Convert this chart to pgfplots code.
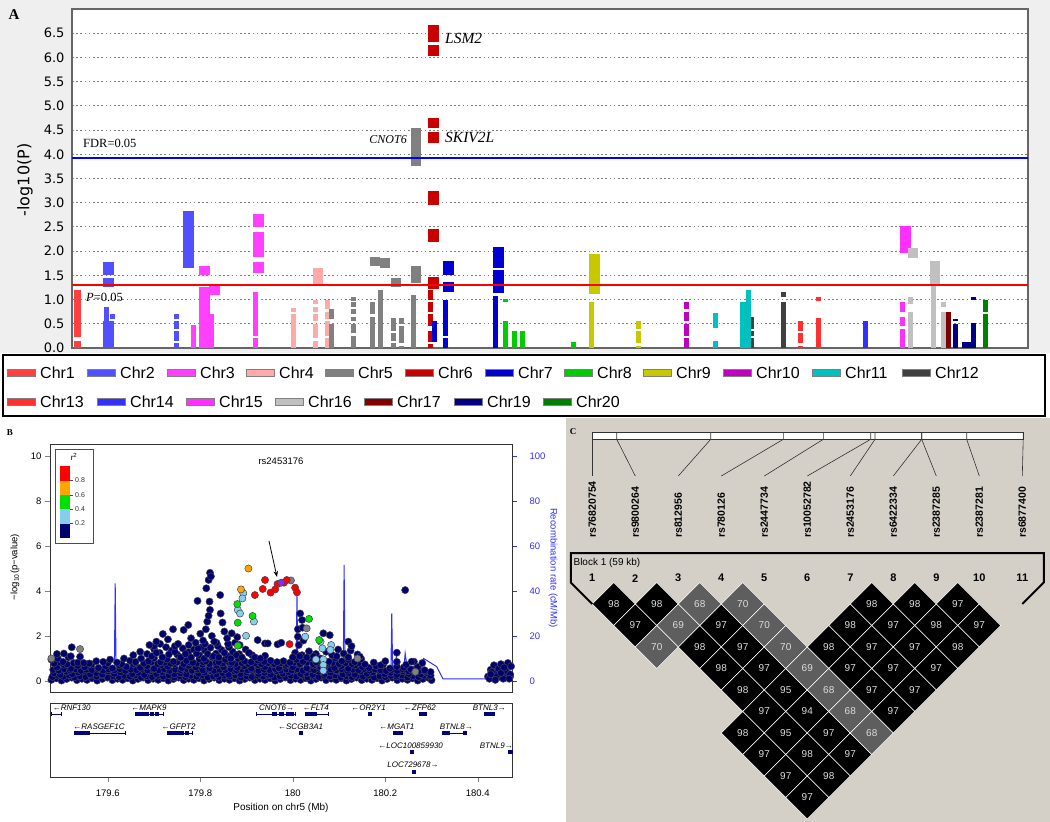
\documentclass[border=0pt]{standalone}
\usepackage{fontspec}
\setmainfont{Liberation Sans}
\newfontfamily\timesf{Liberation Serif}
\newfontfamily\dejavu{DejaVu Sans}
\usepackage{pgfplots}
\pgfplotsset{compat=1.18}
\usetikzlibrary{arrows.meta}
\newcommand{\fs}[1]{\fontsize{#1}{#1}\selectfont}
\pgfplotsset{/pgf/number format/assume math mode=true}
\definecolor{bgA}{HTML}{EFEFEF}
\definecolor{bgC}{HTML}{D4D0C8}
\definecolor{chrA}{HTML}{FF4040}
\definecolor{chrB}{HTML}{5050FF}
\definecolor{chrC}{HTML}{FF40FF}
\definecolor{chrD}{HTML}{FFAAAA}
\definecolor{chrE}{HTML}{808080}
\definecolor{chrF}{HTML}{C80000}
\definecolor{chrG}{HTML}{0000D0}
\definecolor{chrH}{HTML}{00CC00}
\definecolor{chrI}{HTML}{C8C800}
\definecolor{chrJ}{HTML}{C000C0}
\definecolor{chrK}{HTML}{00C0C0}
\definecolor{chrL}{HTML}{404040}
\definecolor{chrM}{HTML}{FF3030}
\definecolor{chrN}{HTML}{3030FF}
\definecolor{chrO}{HTML}{FF30FF}
\definecolor{chrP}{HTML}{C0C0C0}
\definecolor{chrQ}{HTML}{800000}
\definecolor{chrR}{HTML}{000080}
\definecolor{chrS}{HTML}{008000}
\definecolor{ptNavy}{HTML}{00006E}
\definecolor{ptEdge}{HTML}{444450}
\definecolor{ptLB}{HTML}{87CEEB}
\definecolor{ptGreen}{HTML}{00E000}
\definecolor{ptOrange}{HTML}{FFA500}
\definecolor{ptRed}{HTML}{FF0000}
\definecolor{ptPurple}{HTML}{8A2BE2}
\definecolor{recomb}{HTML}{3030FF}
\definecolor{ldgray}{HTML}{5E5E5E}
\definecolor{ldtext}{HTML}{DCDCDC}
\pgfplotsset{pt/.style={only marks, mark=*, mark size=3.6pt, mark options={fill=#1, draw=ptEdge, line width=0.5pt}}}
\begin{document}
\begin{tikzpicture}
\useasboundingbox (0pt,0pt) rectangle (1050pt,-822pt);
\fill[white] (0pt,0pt) rectangle (1050pt,-822pt);
\fill[bgA] (0pt,0pt) rectangle (1050pt,-353pt);
\fill[bgC] (566pt,-418pt) rectangle (1050pt,-822pt);

% ================= Panel A =================
\begin{axis}[at={(72pt,-348pt)}, anchor=south west, scale only axis,
  width=956pt, height=339pt, xmin=72, xmax=1028, ymin=0, ymax=7,
  axis background/.style={fill=white},
  xtick=\empty, ytick={0,0.5,1,1.5,2,2.5,3,3.5,4,4.5,5,5.5,6,6.5},
  yticklabel style={font=\dejavu\fs{13}, xshift=-4pt, /pgf/number format/.cd, fixed, fixed zerofill, precision=1},
  ymajorgrids, grid style={dash pattern=on 1.6pt off 2.6pt, gray, line width=1pt},
  major tick length=0pt,
  axis line style={draw=black!60, line width=1.4pt},
  unbounded coords=jump]
\addplot[chrA, line width=7pt] coordinates {(78,0)(78,0.15)(78,nan)(78,0.22)(78,1.2)};
\addplot[chrB, line width=11pt] coordinates {(108,1.5)(108,1.78)(108,nan)(108,1.25)(108,1.45)(108,nan)(108,0)(108,0.55)(108,nan)(188,1.65)(188,2.82)};
\addplot[chrB, line width=5pt] coordinates {(106,0.55)(106,0.85)(106,nan)(112,0.6)(112,0.7)(112,nan)(176,0)(176,0.1)(176,nan)(176,0.15)(176,0.35)(176,nan)(176,0.4)(176,0.55)(176,nan)(176,0.6)(176,0.7)};
\addplot[chrC, line width=11pt] coordinates {(204.5,0)(204.5,1.25)(204.5,nan)(204.5,1.5)(204.5,1.7)(204.5,nan)(214,1.1)(214,1.33)(214,nan)(258,1.55)(258,1.77)(258,nan)(258,1.87)(258,2.4)(258,nan)(258,2.5)(258,2.77)};
\addplot[chrC, line width=5pt] coordinates {(193,0)(193,0.48)(193,nan)(211,0)(211,0.7)(211,nan)(255,0)(255,0.2)(255,nan)(255,0.25)(255,1.15)};
\addplot[chrD, line width=10pt] coordinates {(318,1.3)(318,1.65)};
\addplot[chrD, line width=5pt] coordinates {(293,0)(293,0.7)(293,nan)(293,0.75)(293,0.82)(293,nan)(315,0)(315,0.15)(315,nan)(315,0.2)(315,0.5)(315,nan)(315,0.55)(315,0.7)(315,nan)(315,0.75)(315,0.85)(315,nan)(315,0.9)(315,1.0)(315,nan)(327,0)(327,0.2)(327,nan)(327,0.25)(327,0.55)(327,nan)(327,0.6)(327,0.75)(327,nan)(327,0.8)(327,1.0)};
\addplot[chrE, line width=10pt] coordinates {(375,1.7)(375,1.88)(375,nan)(385,1.65)(385,1.85)(385,nan)(396,1.25)(396,1.45)(396,nan)(416,1.35)(416,1.7)(416,nan)(416,3.75)(416,4.55)};
\addplot[chrE, line width=5pt] coordinates {(331,0)(331,0.5)(331,nan)(331,0.6)(331,0.8)(331,nan)(353,0)(353,0.25)(353,nan)(353,0.3)(353,0.5)(353,nan)(353,0.55)(353,0.65)(353,nan)(353,0.7)(353,0.8)(353,nan)(353,0.85)(353,0.95)(353,nan)(353,0.98)(353,1.05)(353,nan)(372,0)(372,0.65)(372,nan)(372,0.7)(372,0.95)(372,nan)(380,0)(380,1.2)(380,nan)(393,0)(393,0.1)(393,nan)(393,0.15)(393,0.3)(393,nan)(393,0.35)(393,0.62)(393,nan)(401,0)(401,0.05)(401,nan)(401,0.1)(401,0.45)(401,nan)(401,0.5)(401,0.62)(401,nan)(413,0)(413,1.1)};
\addplot[chrF, line width=11pt] coordinates {(433,6.03)(433,6.25)(433,nan)(433,6.32)(433,6.67)(433,nan)(433,4.23)(433,4.45)(433,nan)(433,4.55)(433,4.75)(433,nan)(433,2.96)(433,3.24)(433,nan)(433,2.18)(433,2.46)(433,nan)(433,1.22)(433,1.46)};
\addplot[chrF, line width=5pt] coordinates {(430,0)(430,0.08)(430,nan)(430,0.12)(430,0.35)(430,nan)(430,0.45)(430,0.7)(430,nan)(430,0.75)(430,0.95)(430,nan)(430,1.0)(430,1.2)};
\addplot[chrG, line width=11pt] coordinates {(448,1.5)(448,1.8)(448,nan)(448,1.15)(448,1.37)(448,nan)(498,1.13)(498,1.62)(498,nan)(498,1.66)(498,2.08)};
\addplot[chrG, line width=5pt] coordinates {(434,0.12)(434,0.55)(434,nan)(445,0)(445,0.2)(445,nan)(445,0.25)(445,1.0)(445,nan)(495,0)(495,1.08)};
\addplot[chrH, line width=5pt] coordinates {(505,0.95)(505,1.02)(505,nan)(505,0)(505,0.55)(505,nan)(514,0)(514,0.35)(514,nan)(522,0)(522,0.35)(522,nan)(573,0)(573,0.13)};
\addplot[chrI, line width=11pt] coordinates {(594.5,1.12)(594.5,1.95)};
\addplot[chrI, line width=5pt] coordinates {(591,0)(591,0.95)(591,nan)(638,0)(638,0.05)(638,nan)(638,0.1)(638,0.35)(638,nan)(638,0.4)(638,0.55)};
\addplot[chrJ, line width=5pt] coordinates {(686,0)(686,0.2)(686,nan)(686,0.25)(686,0.5)(686,nan)(686,0.55)(686,0.75)(686,nan)(686,0.8)(686,0.95)};
\addplot[chrK, line width=8pt] coordinates {(744,0)(744,0.95)};
\addplot[chrK, line width=5pt] coordinates {(715,0)(715,0.15)(715,nan)(715,0.42)(715,0.72)(715,nan)(748,0)(748,1.2)};
\addplot[chrL, line width=3pt] coordinates {(752,0)(752,0.2)(752,nan)(752,0.25)(752,0.35)(752,nan)(752,0.4)(752,0.65)};
\addplot[chrL, line width=5pt] coordinates {(783,0)(783,0.95)(783,nan)(783,1.05)(783,1.15)};
\addplot[chrM, line width=5pt] coordinates {(800,0)(800,0.05)(800,nan)(800,0.1)(800,0.3)(800,nan)(800,0.35)(800,0.55)(800,nan)(818,0)(818,0.62)(818,nan)(818,0.98)(818,1.05)};
\addplot[chrN, line width=5pt] coordinates {(865,0)(865,0.55)};
\addplot[chrO, line width=11pt] coordinates {(905,1.96)(905,2.51)};
\addplot[chrO, line width=5pt] coordinates {(902,0)(902,0.4)(902,nan)(902,0.45)(902,0.65)(902,nan)(902,0.75)(902,0.95)};
\addplot[chrP, line width=10pt] coordinates {(913,1.86)(913,2.06)(913,nan)(935,1.3)(935,1.8)};
\addplot[chrP, line width=5pt] coordinates {(910,0)(910,0.75)(910,nan)(910,0.9)(910,1.05)(910,nan)(933,0)(933,1.3)(933,nan)(943,0)(943,0.75)(943,nan)(943,0.85)(943,0.95)};
\addplot[chrQ, line width=5pt] coordinates {(948,0)(948,0.75)};
\addplot[chrR, line width=10pt] coordinates {(967,0)(967,0.13)};
\addplot[chrR, line width=5pt] coordinates {(955,0)(955,0.5)(955,nan)(955,0.55)(955,0.6)(955,nan)(973,0)(973,0.52)(973,nan)(973,1.0)(973,1.05)};
\addplot[chrS, line width=5pt] coordinates {(985,0)(985,0.7)(985,nan)(985,0.75)(985,1.0)};
\addplot[blue, line width=1.5pt] coordinates {(72,3.92)(1028,3.92)};
\addplot[red, line width=1.5pt] coordinates {(72,1.3)(1028,1.3)};
\end{axis}
\node[font=\timesf\bfseries\fs{15}] at (14pt,-15pt) {A};
\node[rotate=90, font=\dejavu\fs{16}] at (25pt,-180pt) {-log10(P)};
\node[anchor=west, inner sep=0pt, font=\timesf\fs{12.5}] at (83pt,-143pt) {FDR=0.05};
\node[anchor=west, inner sep=0pt, font=\timesf\fs{12.5}] at (86pt,-297pt) {\textit{P}=0.05};
\node[anchor=west, inner sep=0pt, font=\timesf\itshape\fs{15.5}] at (445pt,-38pt) {LSM2};
\node[anchor=west, inner sep=0pt, font=\timesf\itshape\fs{15.5}] at (445pt,-137pt) {SKIV2L};
\node[anchor=east, inner sep=0pt, font=\timesf\itshape\fs{12}] at (407pt,-140pt) {CNOT6};

% legend
\draw[black, line width=1.5pt, fill=white] (3pt,-355pt) rectangle (1045pt,-416pt);
\foreach \xx/\lab/\col in {7/Chr1/chrA, 87/Chr2/chrB, 167/Chr3/chrC, 246/Chr4/chrD, 325/Chr5/chrE, 405/Chr6/chrF, 485/Chr7/chrG, 564/Chr8/chrH, 643/Chr9/chrI, 723/Chr10/chrJ, 812/Chr11/chrK, 902/Chr12/chrL}{
  \fill[\col, draw=gray, line width=0.5pt] (\xx pt,-369pt) rectangle ++(28pt,-7pt);
  \node[anchor=west, inner sep=0pt, font=\fs{16}] at (\xx pt+33pt,-373pt) {\lab};
}
\foreach \xx/\lab/\col in {7/Chr13/chrM, 97/Chr14/chrN, 186/Chr15/chrO, 275/Chr16/chrP, 364/Chr17/chrQ, 454/Chr19/chrR, 543/Chr20/chrS}{
  \fill[\col, draw=gray, line width=0.5pt] (\xx pt,-398pt) rectangle ++(28pt,-7pt);
  \node[anchor=west, inner sep=0pt, font=\fs{16}] at (\xx pt+33pt,-402pt) {\lab};
}

% ================= Panel B =================
\begin{axis}[at={(50pt,-692pt)}, anchor=south west, scale only axis,
  width=462pt, height=248pt, xmin=179.475, xmax=180.474, ymin=-4.89, ymax=105.33,
  axis x line=none, axis y line*=right, ytick={0,20,40,60,80,100},
  tick align=outside, major tick length=5pt, ytick style={recomb, line width=0.8pt},
  yticklabel style={font=\fs{9.5}, text=recomb, anchor=west, xshift=9pt},
  y axis line style={draw=none}]
\addplot[recomb, line width=1pt] coordinates {(179.475,1.5)(179.598,1.5)(179.600,10.8)(179.602,1.5)(179.614,1.5)(179.616,43.4)(179.618,2)(180.007,2)(180.009,39)(180.011,2)(180.109,2)(180.111,51.6)(180.113,2)(180.212,2)(180.214,30)(180.216,4)(180.222,4)(180.224,12)(180.226,4)(180.240,5)(180.243,12.3)(180.247,6.4)(180.281,6.4)(180.283,10)(180.311,6.4)(180.325,0.9)(180.474,0.9)};
\end{axis}
\begin{axis}[at={(50pt,-692pt)}, anchor=south west, scale only axis,
  width=462pt, height=248pt, xmin=179.475, xmax=180.474, ymin=-0.489, ymax=10.533,
  xtick=\empty, ytick={0,2,4,6,8,10}, ytick pos=left,
  tick align=outside, major tick length=5pt,
  yticklabel style={font=\fs{9.5}},
  axis line style={black!80, line width=0.9pt}]
\addplot[pt=ptNavy] coordinates {
(179.478,0.05)(179.489,0.12)(179.500,0.02)(179.511,0.09)(179.522,0.15)(179.533,0.04)(179.544,0.10)(179.555,0.05)(179.566,0.12)(179.577,0.02)(179.588,0.09)(179.599,0.15)(179.610,0.04)(179.621,0.10)(179.632,0.05)(179.643,0.12)(179.654,0.02)(179.665,0.09)(179.676,0.15)(179.687,0.04)(179.698,0.10)(179.709,0.05)(179.720,0.12)(179.731,0.02)(179.742,0.09)(179.753,0.15)(179.764,0.04)(179.775,0.10)(179.786,0.05)(179.797,0.12)(179.808,0.02)(179.819,0.09)(179.830,0.15)(179.841,0.04)(179.852,0.10)(179.863,0.05)(179.874,0.12)(179.885,0.02)(179.896,0.09)(179.907,0.15)(179.918,0.04)(179.929,0.10)(179.940,0.05)(179.951,0.12)(179.962,0.02)(179.973,0.09)(179.984,0.15)(179.995,0.04)(180.006,0.10)(180.017,0.05)(180.028,0.12)(180.039,0.02)(180.050,0.09)(180.061,0.15)(180.072,0.04)(180.083,0.10)(180.094,0.05)(180.105,0.12)(180.116,0.02)(180.127,0.09)(180.138,0.15)(180.149,0.04)(180.160,0.10)(180.171,0.05)(180.182,0.12)(180.193,0.02)(180.204,0.09)(180.215,0.15)(180.226,0.04)(180.237,0.10)(180.248,0.05)(180.259,0.12)(180.270,0.02)(180.281,0.09)(180.292,0.15)(180.300,0.04)
(179.480,0.18)(179.492,0.24)(179.504,0.20)(179.516,0.26)(179.528,0.16)(179.540,0.22)(179.552,0.18)(179.564,0.24)(179.576,0.20)(179.588,0.26)(179.600,0.16)(179.612,0.22)(179.624,0.18)(179.636,0.24)(179.648,0.20)(179.660,0.26)(179.672,0.16)(179.684,0.22)(179.696,0.18)(179.708,0.24)(179.720,0.20)(179.732,0.26)(179.744,0.16)(179.756,0.22)(179.768,0.18)(179.780,0.24)(179.792,0.20)(179.804,0.26)(179.816,0.16)(179.828,0.22)(179.840,0.18)(179.852,0.24)(179.864,0.20)(179.876,0.26)(179.888,0.16)(179.900,0.22)(179.912,0.18)(179.924,0.24)(179.936,0.20)(179.948,0.26)(179.960,0.16)(179.972,0.22)(179.984,0.18)(179.996,0.24)(180.008,0.20)(180.020,0.26)(180.032,0.16)(180.044,0.22)(180.056,0.18)(180.068,0.24)(180.080,0.20)(180.092,0.26)(180.104,0.16)(180.116,0.22)(180.128,0.18)(180.140,0.24)(180.152,0.20)(180.164,0.26)(180.176,0.16)(180.188,0.22)(180.200,0.18)(180.212,0.24)(180.224,0.20)(180.236,0.26)(180.248,0.16)(180.260,0.22)(180.272,0.18)(180.284,0.24)(180.296,0.20)(180.422,0.20)(180.434,0.25)(180.446,0.18)(180.458,0.24)(180.470,0.20)
(179.484,0.35)(179.497,0.28)(179.510,0.42)(179.523,0.31)(179.536,0.38)(179.549,0.45)(179.562,0.30)(179.575,0.36)(179.588,0.29)(179.601,0.43)(179.614,0.33)(179.627,0.39)(179.640,0.46)(179.653,0.31)(179.666,0.37)(179.679,0.28)(179.692,0.44)(179.705,0.32)(179.718,0.40)(179.731,0.47)(179.744,0.30)(179.757,0.35)(179.770,0.29)(179.783,0.42)(179.796,0.33)(179.809,0.38)(179.822,0.45)(179.835,0.30)(179.848,0.36)(179.861,0.28)(179.874,0.43)(179.887,0.31)(179.900,0.39)(179.913,0.46)(179.926,0.32)(179.939,0.37)(179.952,0.29)(179.965,0.44)(179.978,0.33)(179.991,0.40)(180.004,0.47)(180.017,0.31)(180.030,0.36)(180.043,0.28)(180.056,0.42)(180.069,0.32)(180.082,0.38)(180.095,0.45)(180.108,0.30)(180.121,0.35)(180.134,0.29)(180.147,0.43)(180.160,0.33)(180.173,0.39)(180.186,0.46)(180.199,0.31)(180.212,0.37)(180.225,0.28)(180.238,0.44)(180.251,0.32)(180.264,0.40)(180.277,0.30)(180.290,0.36)(180.298,0.25)
(179.482,0.50)(179.494,0.47)(179.506,0.53)(179.518,0.48)(179.530,0.52)(179.542,0.46)(179.554,0.51)(179.566,0.49)(179.578,0.54)(179.590,0.47)(179.602,0.52)(179.614,0.48)(179.626,0.53)(179.638,0.46)(179.650,0.51)(179.662,0.49)(179.674,0.54)(179.686,0.47)(179.698,0.52)(179.710,0.48)(179.722,0.53)(179.734,0.46)(179.746,0.51)(179.758,0.49)(179.770,0.54)(179.782,0.47)(179.794,0.52)(179.806,0.48)(179.818,0.53)(179.830,0.46)(179.842,0.51)(179.854,0.49)(179.866,0.54)(179.878,0.47)(179.890,0.52)(179.902,0.48)(179.914,0.53)(179.926,0.46)(179.938,0.51)(179.950,0.49)(179.962,0.54)(179.974,0.47)(179.986,0.52)(179.998,0.48)(180.010,0.53)(180.022,0.46)(180.034,0.51)(180.046,0.49)(180.058,0.54)(180.070,0.47)(180.082,0.52)(180.094,0.48)(180.106,0.53)(180.118,0.46)(180.130,0.51)(180.142,0.49)(180.154,0.54)(180.166,0.47)(180.178,0.52)(180.190,0.48)(180.202,0.45)(180.214,0.50)(180.226,0.46)(180.238,0.52)(180.250,0.44)(180.262,0.50)(180.274,0.46)(180.286,0.42)(180.298,0.40)(180.428,0.50)(180.442,0.45)(180.462,0.55)
(179.490,0.60)(179.505,0.72)(179.520,0.55)(179.535,0.68)(179.550,0.62)(179.565,0.74)(179.580,0.58)(179.595,0.66)(179.610,0.56)(179.625,0.70)(179.640,0.63)(179.655,0.75)(179.670,0.59)(179.685,0.67)(179.700,0.55)(179.715,0.71)(179.730,0.64)(179.745,0.76)(179.760,0.58)(179.775,0.68)(179.790,0.61)(179.805,0.73)(179.820,0.57)(179.835,0.69)(179.850,0.62)(179.865,0.74)(179.880,0.59)(179.895,0.66)(179.910,0.56)(179.925,0.71)(179.940,0.63)(179.955,0.75)(179.970,0.58)(179.985,0.68)(180.000,0.61)(180.015,0.73)(180.030,0.57)(180.045,0.69)(180.060,0.62)(180.075,0.74)(180.090,0.59)(180.105,0.67)(180.120,0.55)(180.135,0.70)(180.150,0.63)(180.165,0.58)(180.180,0.66)(180.195,0.72)(180.210,0.56)(180.225,0.64)(180.240,0.60)(180.255,0.52)(180.270,0.62)(180.285,0.48)
(179.484,0.78)(179.498,0.82)(179.512,0.74)(179.526,0.80)(179.560,0.78)(179.600,0.80)(179.630,0.76)(179.660,0.80)(179.678,0.78)(179.694,0.84)(179.708,0.76)(179.722,0.82)(179.736,0.78)(179.750,0.84)(179.764,0.76)(179.778,0.82)(179.792,0.78)(179.806,0.84)(179.820,0.76)(179.834,0.82)(179.848,0.78)(179.862,0.84)(179.876,0.76)(179.890,0.80)(179.904,0.76)(179.918,0.80)(179.932,0.76)(179.946,0.80)(179.960,0.76)(179.974,0.80)(179.988,0.76)(180.002,0.82)(180.016,0.76)(180.030,0.82)(180.044,0.76)(180.058,0.80)(180.072,0.78)(180.086,0.82)(180.100,0.76)(180.114,0.80)(180.128,0.76)(180.142,0.80)(180.156,0.74)(180.190,0.70)(180.245,0.72)
(179.478,0.95)(179.492,1.00)(179.503,0.85)(179.515,1.05)(179.535,0.82)(179.548,0.80)(179.575,0.88)(179.590,0.85)(179.605,0.95)(179.620,0.82)(179.635,1.00)(179.648,0.90)(179.660,0.85)(179.672,1.00)(179.688,0.88)(179.700,1.02)(179.714,0.84)(179.728,0.96)(179.742,0.86)(179.756,1.04)(179.770,0.90)(179.784,0.82)(179.798,0.98)(179.812,0.88)(179.826,1.05)(179.840,0.85)(179.854,0.95)(179.868,0.82)(179.882,1.00)(179.896,0.88)(179.910,0.84)(179.924,0.92)(179.938,0.86)(179.952,0.90)(179.966,0.84)(179.980,0.88)(179.994,0.82)(180.008,0.95)(180.022,0.86)(180.036,1.00)(180.050,0.84)(180.064,0.92)(180.078,0.86)(180.092,1.02)(180.106,0.88)(180.120,0.95)(180.134,0.85)(180.148,0.98)(180.175,0.82)(180.200,0.88)(180.225,0.85)(180.262,0.86)(180.280,0.80)
(179.490,1.20)(179.505,1.22)(179.520,1.10)(179.540,1.08)(179.655,1.15)(179.670,1.30)(179.685,1.20)(179.700,1.42)(179.712,1.25)(179.726,1.50)(179.738,1.35)(179.750,1.18)(179.762,1.45)(179.774,1.28)(179.786,1.40)(179.798,1.15)(179.810,1.35)(179.822,1.48)(179.834,1.22)(179.846,1.38)(179.858,1.12)(179.870,1.30)(179.884,1.20)(179.898,1.40)(179.912,1.15)(179.940,1.12)(180.005,1.25)(180.020,1.15)(180.035,1.32)(180.050,1.20)(180.072,1.30)(180.085,1.15)(180.098,1.40)(180.110,1.22)(180.125,1.35)(180.140,1.18)(180.145,1.08)
(179.695,1.10)(179.705,1.25)(179.718,1.05)(179.732,1.18)(179.745,1.30)(179.758,1.05)(179.768,1.20)(179.780,1.05)(179.792,1.22)(179.802,1.50)(179.808,1.00)(179.816,1.20)(179.828,1.10)(179.838,1.55)(179.840,1.05)(179.852,1.25)(179.862,1.50)(179.866,1.00)(179.878,1.15)(179.890,1.05)(179.905,1.25)(179.918,1.05)(179.930,1.00)(179.700,1.55)(179.713,1.65)(179.745,1.55)(179.775,1.60)(179.795,1.45)(179.810,1.65)(179.835,1.70)(179.860,1.65)(179.885,1.60)(180.000,1.05)(180.015,1.10)(180.030,1.05)(180.045,1.10)(180.060,1.00)(180.095,1.10)(180.120,1.05)
(179.522,1.50)(179.690,1.60)(179.705,1.75)(179.719,2.09)(179.730,1.85)(179.741,2.30)(179.752,1.65)(179.764,2.27)(179.774,2.49)(179.780,1.90)(179.790,1.70)(179.794,3.56)(179.800,2.10)(179.806,1.80)(179.813,4.12)(179.818,4.49)(179.821,4.81)(179.823,4.65)(179.820,3.53)(179.821,3.16)(179.815,2.64)(179.818,2.90)(179.812,2.30)(179.825,2.00)(179.830,1.75)(179.843,3.82)(179.844,3.00)(179.848,2.60)(179.852,2.20)(179.858,1.90)(179.868,2.12)(179.875,1.70)(179.880,1.95)(179.924,1.82)(179.940,1.67)(179.946,1.67)(179.967,1.63)(179.975,1.70)(180.011,2.30)(180.016,3.00)(180.020,2.71)(180.021,2.37)(180.011,1.97)(180.013,1.60)(180.023,1.80)(180.066,2.12)(180.080,2.04)(180.120,1.75)(180.127,1.55)(180.243,4.04)(180.225,1.26)(180.257,0.86)
(180.425,0.10)(180.430,0.40)(180.435,0.70)(180.440,0.20)(180.445,0.55)(180.450,0.75)(180.455,0.10)(180.460,0.45)(180.465,0.80)(180.470,0.30)(180.472,0.65)(180.428,0.30)(180.438,0.05)(180.450,0.35)(180.468,0.10)(180.457,0.60)
};
\addplot[pt=gray] coordinates {(179.540,1.42)(179.996,4.47)(180.030,2.34)(180.265,0.41)(180.140,1.00)(179.478,1.00)};
\addplot[pt=ptLB] coordinates {(179.893,3.90)(179.891,3.67)(179.881,3.16)(179.886,3.00)(179.916,2.64)(179.899,2.01)(180.027,1.97)(180.064,1.45)(180.050,0.96)(180.066,0.96)(180.066,0.71)(180.066,0.46)(180.083,1.60)(180.081,1.38)(180.060,1.75)};
\addplot[pt=ptGreen] coordinates {(179.880,3.42)(179.881,2.59)(179.913,2.89)(179.881,1.57)(180.035,2.76)(180.057,1.82)};
\addplot[pt=ptOrange] coordinates {(179.904,5.00)(179.888,4.07)};
\addplot[pt=ptRed] coordinates {(179.940,4.49)(179.935,4.09)(179.918,3.82)(179.952,3.93)(179.962,4.07)(179.967,4.31)(179.981,4.37)(179.987,4.49)(180.005,4.15)(180.009,3.94)(179.993,1.64)};
\addplot[pt=ptPurple] coordinates {(179.975,4.37)};
\end{axis}
\draw[-{Stealth[length=6pt]}, line width=0.8pt] (269pt,-541pt) -- (277pt,-577pt);
\node[font=\timesf\bfseries\fs{9}] at (10pt,-433pt) {B};
\node[font=\fs{9.5}] at (281pt,-461pt) {rs2453176};
\node[rotate=90, font=\fs{9.5}] at (15pt,-567pt) {−log\textsubscript{10}(p−value)};
\node[rotate=-90, font=\fs{9.5}, text=recomb] at (553pt,-568pt) {Recombination rate (cM/Mb)};
% r2 legend
\draw[black!70, fill=white, line width=0.6pt] (55pt,-449pt) rectangle (93pt,-543pt);
\fill[ptRed] (60pt,-466pt) rectangle (70pt,-480.5pt);
\fill[ptOrange] (60pt,-480.5pt) rectangle (70pt,-495pt);
\fill[ptGreen] (60pt,-495pt) rectangle (70pt,-509pt);
\fill[ptLB] (60pt,-509pt) rectangle (70pt,-523.5pt);
\fill[ptNavy] (60pt,-523.5pt) rectangle (70pt,-538pt);
\foreach \yy/\lab in {480.5/0.8, 495/0.6, 509/0.4, 523.5/0.2}{
  \draw[black!70, line width=0.4pt] (70pt,-\yy pt) -- (73pt,-\yy pt);
  \node[anchor=west, inner sep=0pt, font=\fs{7}, text=black!80] at (75pt,-\yy pt) {\lab};
}
\node[font=\fs{8}] at (74pt,-457pt) {r\textsuperscript{2}};

% gene track
\begin{axis}[at={(50pt,-777pt)}, anchor=south west, scale only axis,
  width=462pt, height=74pt, xmin=179.475, xmax=180.474, ymin=0, ymax=74,
  ytick=\empty, xtick={179.6,179.8,180,180.2,180.4},
  xticklabels={179.6,179.8,180,180.2,180.4},
  tick align=outside, major tick length=5pt, xtick pos=bottom,
  xticklabel style={font=\fs{9.5}, yshift=-4pt},
  axis line style={black!80, line width=0.9pt}, clip=false, unbounded coords=jump]
\addplot[chrR, line width=0.7pt, mark=|, mark size=2pt] coordinates {
(179.477,63)(179.499,63)(179.5,nan)(179.659,63)(179.720,63)(179.8,nan)(179.921,63)(180.005,63)(180.01,nan)(180.027,63)(180.077,63)(180.1,nan)(180.274,63)(180.288,63)(180.3,nan)(180.416,63)(180.434,63)(180.44,nan)
(179.527,44)(179.637,44)(179.7,nan)(179.728,44)(179.782,44)(179.9,nan)(180.218,44)(180.236,44)(180.3,nan)(180.324,44)(180.376,44)(180.4,nan)(180.466,25)(180.474,25)};
\addplot[chrR, only marks, mark=square*, mark size=1.6pt] coordinates {
(179.662,63)(179.667,63)(179.672,63)(179.683,63)(179.695,63)(179.705,63)(179.96,63)(179.975,63)(179.99,63)(179.998,63)(180.032,63)(180.037,63)(180.042,63)(180.048,63)(180.166,63)(180.277,63)(180.282,63)(180.418,63)(180.425,63)(180.432,63)
(179.530,44)(179.538,44)(179.547,44)(179.557,44)(179.732,44)(179.738,44)(179.745,44)(179.752,44)(179.760,44)(179.770,44)(180.017,44)(180.222,44)(180.230,44)(180.327,44)(180.335,44)(180.372,44)
(180.257,25)(180.470,25)(180.261,5)};
\end{axis}
\begin{scope}[font=\itshape\fs{8}]
\node at (71.7pt,-708pt) {←RNF130};
\node at (149.0pt,-708pt) {←MAPK9};
\node at (276.6pt,-708pt) {CNOT6→};
\node at (315.9pt,-708pt) {←FLT4};
\node at (368.6pt,-708pt) {←OR2Y1};
\node at (419.9pt,-708pt) {←ZFP62};
\node at (489.3pt,-708pt) {BTNL3→};
\node at (99.0pt,-727pt) {←RASGEF1C};
\node at (178.6pt,-727pt) {←GFPT2};
\node at (300.6pt,-727pt) {←SCGB3A1};
\node at (396.9pt,-727pt) {←MGAT1};
\node at (456.3pt,-727pt) {BTNL8→};
\node at (410.7pt,-746pt) {←LOC100859930};
\node at (496.3pt,-746pt) {BTNL9→};
\node at (413.0pt,-765pt) {LOC729678→};
\end{scope}
\node[font=\fs{10}] at (281pt,-808pt) {Position on chr5 (Mb)};

% ================= Panel C =================
\node[font=\timesf\bfseries\fs{9}] at (573pt,-432pt) {C};
\begin{axis}[at={(592.3pt,-582.5pt)}, anchor=north west, scale only axis,
  width=430pt, height=215pt, xmin=1, xmax=11, ymin=0, ymax=10, y dir=reverse,
  axis lines=none, clip=false, xtick=\empty, ytick=\empty,
  only marks, mark=square*, mark size=15.2pt]
\addplot[mark options={rotate=45, fill=black, draw=white, line width=0.6pt}] coordinates {(5.5,1)(6.5,1)(10.5,1)(6,2)(3,4)(3.5,5)(4,6)};
\addplot[mark options={rotate=45, fill=black, draw=white, line width=0.6pt},
  point meta=explicit symbolic, nodes near coords,
  every node near coord/.append style={anchor=center, font=\fs{10}, text=ldtext}] coordinates {
(1.5,1)[98](2.5,1)[98](7.5,1)[98](8.5,1)[98](9.5,1)[97]
(2,2)[97](4,2)[97](7,2)[98](8,2)[97](9,2)[98](10,2)[97]
(3.5,3)[98](4.5,3)[97](6.5,3)[98](7.5,3)[97](8.5,3)[97](9.5,3)[98]
(4,4)[98](5,4)[97](7,4)[97](8,4)[97](9,4)[97]
(4.5,5)[98](5.5,5)[95](7.5,5)[97](8.5,5)[97]
(5,6)[97](6,6)[94](8,6)[97]
(4.5,7)[98](5.5,7)[95](6.5,7)[97]
(5,8)[97](6,8)[98](7,8)[97]
(5.5,9)[97](6.5,9)[98]
(6,10)[97]};
\addplot[mark options={rotate=45, fill=ldgray, draw=white, line width=0.6pt},
  point meta=explicit symbolic, nodes near coords,
  every node near coord/.append style={anchor=center, font=\fs{10}, text=ldtext}] coordinates {
(3.5,1)[68](4.5,1)[70](3,2)[69](5,2)[70](2.5,3)[70](5.5,3)[70](6,4)[69](6.5,5)[68](7,6)[68](7.5,7)[68]};
\end{axis}
% block outline and labels (pixel positions)
\draw[black, line width=2pt] (592.3pt,-604pt) -- (570.8pt,-582.5pt) -- (570.8pt,-553pt) -- (1043.8pt,-553pt) -- (1043.8pt,-582.5pt) -- (1022.3pt,-604pt);
\node[anchor=west, inner sep=0pt, font=\fs{10}] at (573.4pt,-563.4pt) {Block 1 (59 kb)};
\foreach \k in {1,...,11}{
  \node[font=\bfseries\fs{11}] at ({592.3pt+43pt*(\k-1)},-578.2pt) {\k};
}
\foreach \k/\nm in {1/rs76820754, 2/rs9800264, 3/rs812956, 4/rs780126, 5/rs2447734, 6/rs10052782, 7/rs2453176, 8/rs6422334, 9/rs2387285, 10/rs2387281, 11/rs6877400}{
  \node[rotate=90, anchor=west, inner sep=0pt, font=\bfseries\fs{10.5}] at ({592.3pt+43pt*(\k-1)},-538pt) {\nm};
}
\draw[black!80, fill=white, line width=0.7pt] (592.3pt,-432.3pt) rectangle (1023.2pt,-439.3pt);
\foreach \k/\ph in {1/592.3, 2/616.7, 3/710.7, 4/783.3, 5/823.3, 6/870.7, 7/875.0, 8/921.7, 9/921.7, 10/966.7, 11/1023.2}{
  \draw[black!80, line width=0.6pt] (\ph pt,-432.3pt) -- (\ph pt,-439.3pt) -- ({592.3pt+43pt*(\k-1)},-476pt);
}
\end{tikzpicture}
\end{document}
